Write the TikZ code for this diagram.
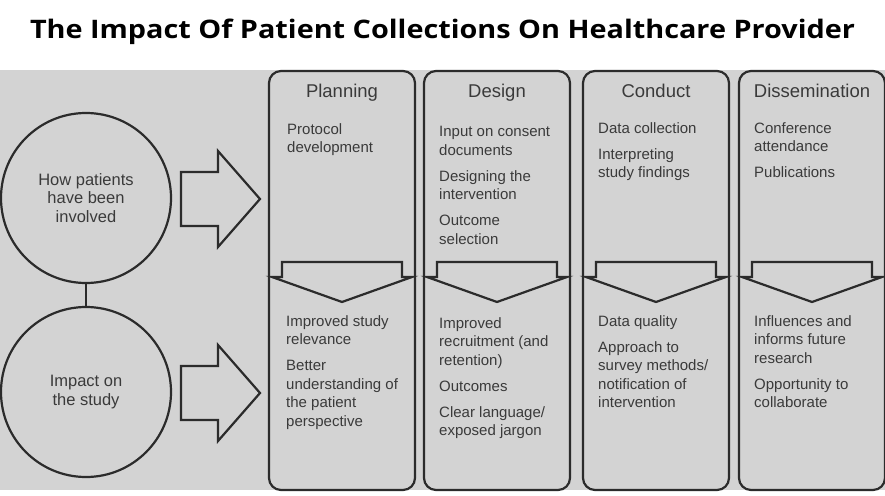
\documentclass[tikz,border=0pt]{standalone}
\usepackage{fontspec}
\setmainfont{Liberation Sans}
\newfontfamily\titlefont{Open Sans}[FakeStretch=1.13]
\definecolor{panelgray}{HTML}{D3D3D3}
\definecolor{inkgray}{HTML}{2B2B2B}
\definecolor{textgray}{HTML}{3A3A3A}
\tikzset{
  outline/.style={draw=inkgray, line width=2.2pt, line join=miter},
  bubble/.style={circle, outline, minimum size=170pt, inner sep=0pt, align=center,
    text=textgray, font=\fontsize{16.5}{18.5}\selectfont},
  stagebox/.style={outline, rounded corners=12pt, minimum width=146pt, minimum height=419pt, inner sep=0pt},
  stagehead/.style={anchor=base, text=textgray, font=\fontsize{18.5}{22}\selectfont},
  itemtext/.style={anchor=north west, align=left, inner sep=0pt, text=textgray,
    font=\fontsize{15}{18.5}\selectfont},
  titletext/.style={font=\titlefont\bfseries\fontsize{25.5}{28}\selectfont, text=black}
}
\begin{document}
\begin{tikzpicture}[x=1pt,y=-1pt]
\fill[white] (0,0) rectangle (885,495);
\useasboundingbox (0,0) rectangle (885,495);
\fill[panelgray] (0,70) rectangle (885,490);
\node[titletext, anchor=base] (title) at (442.5,39) {The Impact Of Patient Collections On Healthcare Provider};
% left side
\node[bubble] (how) at (86,198) {How patients\\have been\\involved};
\node[bubble] (impact) at (86,392) {Impact on\\the study};
\draw[outline] (how) -- (impact);
\foreach \y in {199,393}
  \draw[outline] (181,\y-27) -- (218,\y-27) -- (218,\y-48) -- (260,\y) -- (218,\y+48)
    -- (218,\y+27) -- (181,\y+27) -- cycle;
% stages
\foreach \cx/\name/\head in {342/plan/Planning, 497/design/Design, 656/conduct/Conduct, 812/dissem/Dissemination} {
  \node[stagebox] (\name) at (\cx,280.5) {};
  \node[stagehead] (\name head) at (\cx,97) {\head};
  \draw[outline] (\cx-60,262) -- (\cx+60,262) -- (\cx+60,277) -- (\cx+70,277) -- (\cx,302)
    -- (\cx-70,277) -- (\cx-60,277) -- cycle;
}
\node[itemtext] (plantop) at (287,123) {Protocol\\development};
\node[itemtext] (designtop) at (439,126) {Input on consent\\documents\\[7.5pt]Designing the\\intervention\\[7.5pt]Outcome\\selection};
\node[itemtext] (conducttop) at (598,122) {Data collection\\[7.5pt]Interpreting\\study findings};
\node[itemtext] (dissemtop) at (754,122) {Conference\\attendance\\[7.5pt]Publications};
\node[itemtext] (planbot) at (286,315) {Improved study\\relevance\\[7.5pt]Better\\understanding of\\the patient\\perspective};
\node[itemtext] (designbot) at (439,317) {Improved\\recruitment (and\\retention)\\[7.5pt]Outcomes\\[7.5pt]Clear language/\\exposed jargon};
\node[itemtext] (conductbot) at (598,315) {Data quality\\[7.5pt]Approach to\\survey methods/\\notification of\\intervention};
\node[itemtext] (dissembot) at (754,315) {Influences and\\informs future\\research\\[7.5pt]Opportunity to\\collaborate};
\end{tikzpicture}
\end{document}
